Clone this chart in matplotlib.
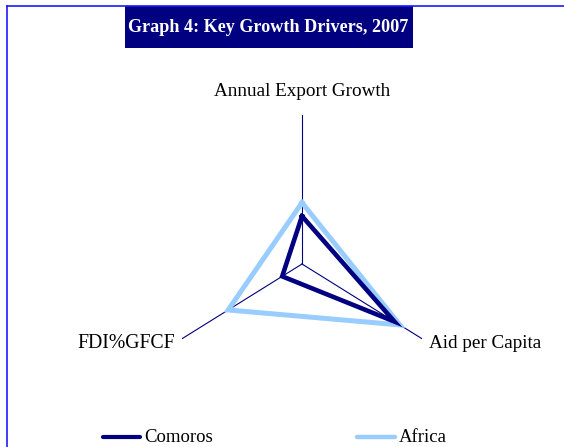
import numpy as np
import matplotlib.pyplot as plt
from matplotlib.lines import Line2D
from matplotlib.patches import Rectangle

# axes and values (share of axis length)
axes_labels = ['Annual Export Growth', 'Aid per Capita', 'FDI%GFCF']
comoros = [0.32, 0.77, 0.165]
africa = [0.41, 0.815, 0.615]

plt.rcParams['font.family'] = ['Liberation Serif', 'DejaVu Serif']

fig = plt.figure(figsize=(5.64, 4.47), dpi=100)
fig.patch.set_facecolor('white')

# figure border (left and top visible)
fig.add_artist(Line2D([7 / 564, 7 / 564], [0, 1 - 6 / 447], transform=fig.transFigure,
                      color='#1a1aff', lw=1.2))
fig.add_artist(Line2D([7 / 564, 1], [1 - 6 / 447, 1 - 6 / 447], transform=fig.transFigure,
                      color='#1a1aff', lw=1.2))

# title box
fig.add_artist(Rectangle((125 / 564, 1 - 48 / 447), 288 / 564, 42 / 447,
                         transform=fig.transFigure, facecolor='#000080', edgecolor='none'))
fig.text(268 / 564, 1 - 27 / 447, 'Graph 4: Key Growth Drivers, 2007', color='white',
         fontsize=13.1, fontweight='bold', ha='center', va='center')

# radar is a bit squeezed horizontally in the original
ax = fig.add_axes([(302 - 138.6) / 564, (183 - 149.5) / 447, 277.2 / 564, 299 / 447],
                  projection='polar')
ax.set_aspect('auto')
ax.set_theta_offset(np.pi / 2)
ax.set_theta_direction(-1)
ax.set_ylim(0, 1)
ax.grid(False)
ax.set_xticks([])
ax.set_yticks([])
ax.spines['polar'].set_visible(False)
ax.patch.set_alpha(0)

n = len(axes_labels)
angles = np.linspace(0, 2 * np.pi, n, endpoint=False)
for a in angles:
    ax.plot([a, a], [0, 1], color='#000080', lw=0.8, zorder=1)

closed = np.append(angles, angles[0])
ax.plot(closed, africa + africa[:1], color='#99ccff', lw=3.6, zorder=2,
        solid_joinstyle='miter')
ax.plot(closed, comoros + comoros[:1], color='#000080', lw=3.3, zorder=3,
        solid_joinstyle='miter')

# axis labels
fig.text(302 / 564, 1 - 92 / 447, axes_labels[0], fontsize=13.8, ha='center', va='center')
fig.text(429 / 564, 1 - 344 / 447, axes_labels[1], fontsize=13.8, ha='left', va='center')
fig.text(175 / 564, 1 - 343 / 447, axes_labels[2], fontsize=14.2, ha='right', va='center')

# legend
ly = 1 - 437 / 447
fig.add_artist(Line2D([103 / 564, 140 / 564], [ly, ly], transform=fig.transFigure,
                      color='#000080', lw=3.0, solid_capstyle='round'))
fig.text(144 / 564, ly, 'Comoros', fontsize=13.5, ha='left', va='center')
fig.add_artist(Line2D([357 / 564, 395 / 564], [ly, ly], transform=fig.transFigure,
                      color='#99ccff', lw=3.2, solid_capstyle='round'))
fig.text(399 / 564, ly, 'Africa', fontsize=13.5, ha='left', va='center')

fig.savefig('out.png', dpi=100)
